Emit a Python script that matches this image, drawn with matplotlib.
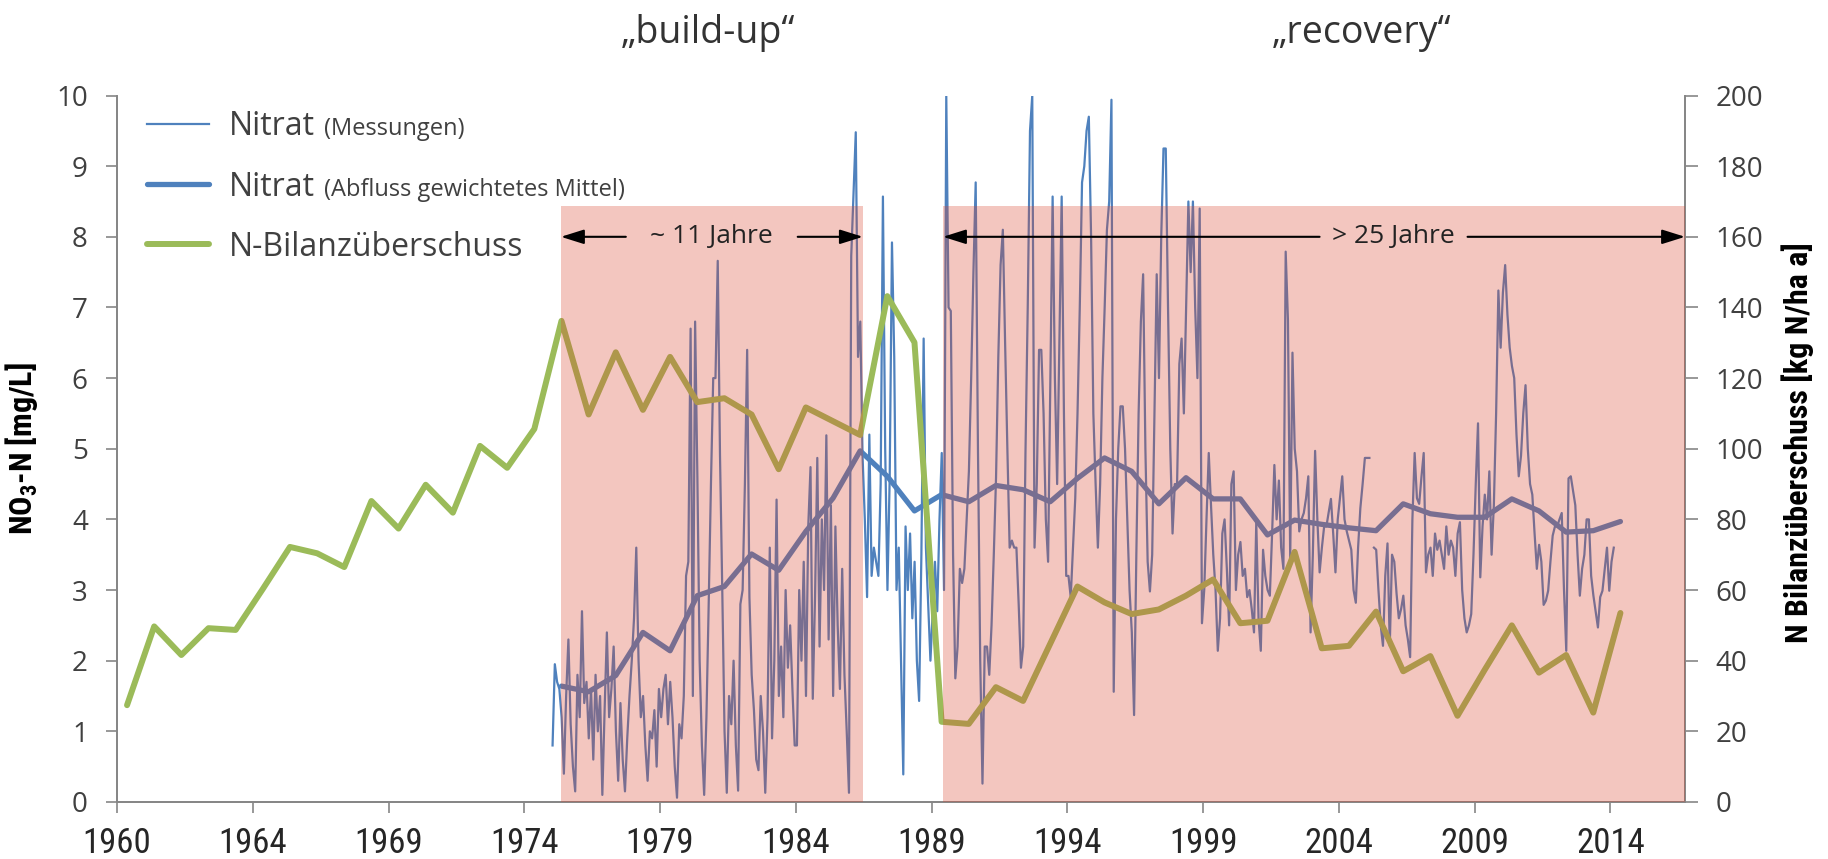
import numpy as np
import matplotlib
matplotlib.use('Agg')
import matplotlib.pyplot as plt
from matplotlib import font_manager

# pick a narrow font for axis titles and x tick labels
fonts = font_manager.fontManager.ttflist
names = {f.name for f in fonts}
NARROW, STRETCH = 'Roboto', 'normal'
for cand in ['Liberation Sans Narrow', 'Roboto Condensed', 'Arial Narrow']:
    if cand in names:
        NARROW = cand
        break
else:
    if any(f.name == 'DejaVu Sans' and f.stretch == 'condensed' for f in fonts):
        NARROW, STRETCH = 'DejaVu Sans', 'condensed'

plt.rcParams['font.family'] = ['Open Sans', 'DejaVu Sans']
plt.rcParams['mathtext.default'] = 'regular'

# N-Bilanzueberschuss (kg N/ha a), one value per year, 1960-2015
bilanz_jahre = list(range(1960, 2016))
n_bilanz = [27.4, 49.7, 41.6, 49.2, 48.7, 60.3, 72.2, 70.4, 66.5, 85.2, 77.4, 89.8, 81.9, 100.8, 94.6, 105.6,
            136.2, 109.7, 127.3, 111.0, 126.0, 113.2, 114.3, 109.7, 94.2, 111.7, 107.8, 103.9, 143.2, 130.1,
            22.7, 22.1, 32.5, 28.6, 44.8, 61.0, 56.5, 53.2, 54.5, 58.4, 63.0, 50.6, 51.3, 70.8, 43.5, 44.2,
            53.9, 37.0, 41.3, 24.4, 37.4, 50.0, 36.6, 41.6, 25.3, 53.5]

# Nitrat, Abfluss gewichtetes Mittel (mg/L), 1976-2015
mittel_jahre = list(range(1976, 2016))
nitrat_mittel = [1.64, 1.56, 1.79, 2.40, 2.14, 2.92, 3.05, 3.51, 3.28, 3.83,
                 4.30, 4.97, 4.61, 4.12, 4.35, 4.25, 4.48, 4.42, 4.25, 4.58,
                 4.87, 4.68, 4.22, 4.59, 4.29, 4.29, 3.78, 3.99, 3.93, 3.88,
                 3.84, 4.22, 4.08, 4.03, 4.03, 4.29, 4.12, 3.82, 3.84, 3.97]

# Nitrat Messungen (mg/L), monthly, one row per year 1976-2015
mess_jahre = list(range(1976, 2016))
nan = np.nan
nitrat_mess = [
    [0.8, 1.95, 1.7, 1.6, 1.2, 0.4, 1.5, 2.3, 1.1, 0.5, 0.15, 1.8],
    [1.2, 2.7, 1.4, 1.7, 0.9, 1.6, 0.6, 1.8, 1.0, 1.5, 0.1, 1.3],
    [2.4, 1.2, 1.6, 2.2, 1.0, 0.3, 1.4, 0.6, 0.15, 0.9, 1.5, 2.0],
    [2.6, 3.6, 2.0, 1.2, 1.5, 0.8, 0.3, 1.0, 0.9, 1.3, 0.5, 1.6],
    [1.2, 1.6, 1.8, 1.1, 1.7, 1.2, 0.5, 0.06, 1.1, 0.9, 1.5, 3.2],
    [3.4, 6.7, 1.5, 6.8, 4.6, 2.0, 0.8, 0.1, 1.2, 2.8, 4.5, 6.0],
    [6.0, 7.66, 4.9, 3.0, 1.0, 0.13, 1.5, 1.1, 2.0, 0.8, 0.16, 2.8],
    [3.0, 4.5, 6.4, 2.9, 1.8, 1.3, 0.6, 0.45, 1.5, 1.0, 0.13, 1.2],
    [3.6, 0.9, 2.0, 4.28, 1.5, 2.2, 1.2, 3.0, 1.9, 2.5, 1.6, 0.8],
    [0.8, 3.0, 2.0, 3.4, 1.5, 3.9, 4.74, 1.46, 2.9, 4.87, 2.2, 4.0],
    [3.0, 5.19, 2.3, 4.2, 1.5, 3.9, 2.5, 1.6, 3.3, 1.8, 1.0, 0.13],
    [7.73, 8.6, 9.48, 6.3, 6.8, 4.9, 4.0, 2.9, 5.2, 3.2, 3.6, 3.4],
    [3.2, 4.5, 8.57, 5.0, 3.0, 4.6, 7.92, 6.3, 3.0, 3.6, 2.0, 0.39],
    [3.9, 3.0, 3.8, 2.6, 3.4, 2.0, 1.43, 3.5, 6.56, 3.6, 2.8, 2.0],
    [2.7, 3.4, 2.7, 4.0, 4.94, 3.0, 10.0, 7.0, 6.95, 3.5, 1.75, 2.2],
    [3.3, 3.1, 3.3, 4.0, 4.68, 6.0, 7.5, 8.77, 5.0, 2.0, 0.26, 2.2],
    [2.2, 1.8, 2.5, 3.5, 4.6, 6.3, 7.6, 8.1, 6.5, 5.0, 3.6, 3.7],
    [3.6, 3.6, 2.8, 1.9, 2.2, 4.94, 7.0, 9.5, 10.0, 3.6, 4.5, 6.4],
    [6.4, 5.5, 4.0, 3.4, 6.0, 8.57, 6.0, 4.5, 6.5, 8.57, 5.5, 3.2],
    [3.2, 2.9, 3.6, 4.3, 5.5, 7.0, 8.77, 9.0, 9.5, 9.7, 8.0, 5.5],
    [4.5, 3.6, 4.5, 6.0, 7.0, 8.1, 8.5, 9.94, 1.56, 4.0, 5.0, 5.6],
    [5.6, 5.0, 4.0, 3.0, 2.4, 1.23, 3.5, 5.5, 6.8, 7.47, 5.0, 3.4],
    [2.98, 3.5, 5.5, 7.47, 6.0, 8.0, 9.25, 9.25, 7.0, 5.0, 3.8, 4.5],
    [4.5, 6.2, 6.56, 5.5, 7.0, 8.5, 7.5, 8.5, 7.0, 6.0, 8.4, 2.53],
    [3.0, 4.0, 4.94, 4.2, 3.5, 3.0, 2.14, 2.6, 3.8, 4.0, 3.3, 2.5],
    [4.5, 4.68, 3.0, 3.5, 3.68, 3.2, 3.3, 2.9, 3.0, 2.73, 2.4, 3.96],
    [2.6, 2.14, 3.57, 3.2, 3.0, 2.92, 3.8, 4.77, 4.0, 4.55, 3.6, 3.3],
    [7.79, 6.82, 3.44, 6.36, 5.0, 4.68, 3.83, 4.0, 4.09, 4.3, 4.61, 2.4],
    [3.5, 4.97, 4.0, 3.25, 3.6, 3.9, 3.9, 4.1, 4.29, 3.8, 3.25, 4.0],
    [4.3, 4.61, 4.0, 3.83, 3.7, 3.57, 3.0, 2.82, 3.6, 4.16, 4.5, 4.87],
    [4.87, 4.87, nan, 3.6, 3.57, 3.0, 2.5, 2.21, 3.2, 3.66, 2.21, 3.5],
    [3.4, 2.95, 2.6, 2.73, 2.92, 2.5, 2.3, 2.05, 4.0, 4.94, 4.3, 4.22],
    [4.6, 4.94, 3.25, 3.5, 3.6, 3.2, 3.8, 3.57, 3.7, 3.5, 3.3, 3.9],
    [3.5, 3.7, 3.6, 3.2, 3.8, 3.96, 3.0, 2.6, 2.4, 2.5, 2.66, 3.5],
    [4.5, 5.36, 3.18, 3.9, 4.35, 4.0, 4.68, 3.5, 4.2, 5.5, 7.24, 6.43],
    [7.21, 7.6, 6.9, 6.43, 6.17, 6.0, 5.2, 4.61, 4.9, 5.5, 5.9, 5.0],
    [4.5, 4.35, 3.8, 3.3, 3.64, 3.4, 2.79, 2.85, 2.99, 3.4, 3.77, 3.9],
    [3.9, 4.0, 4.09, 3.0, 2.14, 4.58, 4.61, 4.4, 4.2, 3.5, 2.92, 3.3],
    [3.5, 4.0, 4.0, 3.2, 2.92, 2.7, 2.47, 2.9, 2.99, 3.3, 3.6, 2.99],
    [3.4, 3.6, nan, nan, nan, nan, nan, nan, nan, nan, nan, nan],
]

x_ticks = [1960, 1965, 1970, 1975, 1980, 1985, 1990, 1995, 2000, 2005, 2010, 2015]
x_labels = ['1960', '1964', '1969', '1974', '1979', '1984', '1989', '1994', '1999', '2004', '2009', '2014']

# phases (years)
phase_buildup = (1976.35, 1987.47)
phase_recovery = (1990.42, 2017.75)

BLUE = '#4F81BD'
GREEN = '#9BBB59'
PINK = '#DA442D'
GRAY = '#868686'
TXT = '#404040'

fig = plt.figure(figsize=(18.28, 8.59), dpi=100)
ax = fig.add_axes([0.0640, 0.0664, 0.8578, 0.8224])
ax2 = ax.twinx()

mess = np.array(nitrat_mess, dtype=float)
mess_x = np.array(mess_jahre)[:, None] + (np.arange(12)[None, :] + 0.5) / 12.0
l1, = ax.plot(mess_x.ravel(), mess.ravel(), color=BLUE, lw=1.6, zorder=2)
l2, = ax.plot(np.array(mittel_jahre) + 0.37, nitrat_mittel, color=BLUE, lw=3.8,
              solid_capstyle='round', zorder=3)
l3, = ax2.plot(np.array(bilanz_jahre) + 0.37, n_bilanz, color=GREEN, lw=4.3,
               solid_capstyle='round', zorder=2)

ax.set_xlim(1960, 2017.75)
ax.set_ylim(0, 10)
ax2.set_ylim(0, 200)
ax.set_yticks(range(0, 11))
ax2.set_yticks(range(0, 201, 20))
ax.set_xticks(x_ticks)
ax.set_xticklabels(x_labels, family=[NARROW, 'DejaVu Sans'], fontstretch=STRETCH,
                   fontsize=25, color='#262626')

for a in (ax, ax2):
    a.spines['top'].set_visible(False)
    for s in ('left', 'right', 'bottom'):
        a.spines[s].set_color(GRAY)
        a.spines[s].set_linewidth(1.3)
ax.tick_params(axis='x', direction='out', length=8, width=1.2, color=GRAY, pad=10)
ax.tick_params(axis='y', direction='out', length=8, width=1.2, color=GRAY, pad=13,
               labelsize=20, labelcolor=TXT)
ax2.tick_params(axis='y', direction='out', length=9, width=1.2, color=GRAY, pad=13,
                labelsize=20, labelcolor=TXT)

ax.set_ylabel(r'NO$_{3}$-N [mg/L]', family=[NARROW, 'DejaVu Sans'], fontstretch=STRETCH,
              fontweight='bold', fontsize=23, color='black')
ax.yaxis.set_label_coords(-0.049, 0.5)
ax2.set_ylabel('N Bilanzüberschuss [kg N/ha a]', family=[NARROW, 'DejaVu Sans'],
               fontstretch=STRETCH, fontweight='bold', fontsize=23, color='black')
ax2.yaxis.set_label_coords(1.0615, 0.508)

# shaded phases on top of the lines
box_top = 8.44 / 10
for x0, x1 in (phase_buildup, phase_recovery):
    ax2.axvspan(x0, x1, ymin=0, ymax=box_top, color=PINK, alpha=0.3, lw=0, zorder=4)

arrow_kw = dict(arrowstyle='-|>,head_length=0.7,head_width=0.22', color='black', lw=1.5,
                shrinkA=0, shrinkB=0, mutation_scale=20)
y_arrow = 160
ax2.annotate('', xy=(phase_buildup[0], y_arrow), xytext=(1978.74, y_arrow), arrowprops=arrow_kw, zorder=6)
ax2.annotate('', xy=(phase_buildup[1], y_arrow), xytext=(1985.07, y_arrow), arrowprops=arrow_kw, zorder=6)
ax2.text(1981.9, y_arrow, '~ 11 Jahre', ha='center', va='center', fontsize=19, color='#222222', zorder=6)
ax2.annotate('', xy=(phase_recovery[0], y_arrow), xytext=(2004.29, y_arrow), arrowprops=arrow_kw, zorder=6)
ax2.annotate('', xy=(phase_recovery[1], y_arrow), xytext=(2009.74, y_arrow), arrowprops=arrow_kw, zorder=6)
ax2.text(2007.0, y_arrow, '> 25 Jahre', ha='center', va='center', fontsize=19, color='#222222', zorder=6)

# phase titles
fig.text(708 / 1828, 1 - 43 / 859, '\u201ebuild-up\u201c', ha='center', va='baseline',
         fontsize=27, color='#333333')
fig.text(1362 / 1828, 1 - 43 / 859, '\u201erecovery\u201c', ha='center', va='baseline',
         fontsize=27, color='#333333')

# legend with smaller parenthetical notes
leg = ax2.legend([l1, l2, l3], ['Nitrat', 'Nitrat', 'N-Bilanzüberschuss'], loc='upper left',
                 bbox_to_anchor=(0.019, 0.979), frameon=False, fontsize=23, handlelength=1.95,
                 handletextpad=0.62, labelspacing=0.85, borderpad=0, borderaxespad=0)
for t in leg.get_texts():
    t.set_color(TXT)
leg.set_zorder(7)

fig.canvas.draw()
renderer = fig.canvas.get_renderer()
W, H = fig.bbox.width, fig.bbox.height
notes = ['(Messungen)', '(Abfluss gewichtetes Mittel)']
for t, note in zip(leg.get_texts()[:2], notes):
    bb = t.get_window_extent(renderer)
    _, _, d = renderer.get_text_width_height_descent('lp', t.get_fontproperties(), ismath=False)
    fig.text((bb.x1 + 9) / W, (bb.y0 + d) / H, note, fontsize=17, va='baseline', ha='left', color=TXT)

fig.savefig('out.png', dpi=100)
